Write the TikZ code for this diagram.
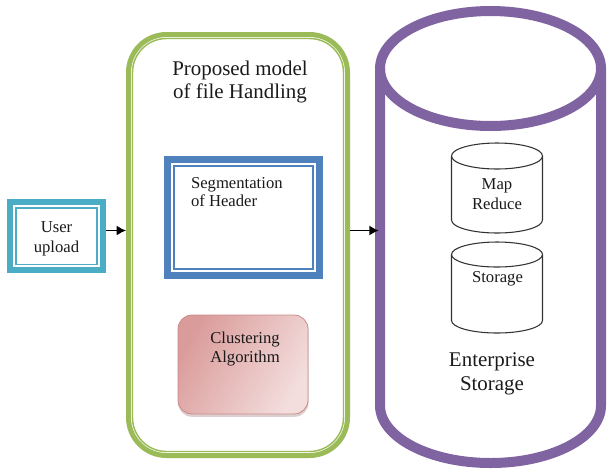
\documentclass[tikz,border=0pt]{standalone}
\usepackage{fontspec}
\setmainfont{Liberation Serif}
\usetikzlibrary{arrows.meta}
\definecolor{cyanb}{HTML}{4BACC6}
\definecolor{blueb}{HTML}{4F81BD}
\definecolor{greenb}{HTML}{9BBB59}
\definecolor{purpb}{HTML}{8064A2}
\definecolor{pinkd}{HTML}{DA9C9B}
\definecolor{pinkl}{HTML}{F3DEDD}
\definecolor{pinkb}{HTML}{C98A89}
\definecolor{txt}{HTML}{1A1A1A}
\begin{document}
\begin{tikzpicture}[x=0.75pt,y=0.75pt,yscale=-1,
  txtnode/.style={text=txt, inner sep=0pt, outer sep=0pt, align=center},
  bigtxt/.style={txtnode, font=\fontsize{15.7}{18}\selectfont},
  frame/.style={inner sep=0pt},
  arr/.style={-{Latex[length=7pt,width=7.5pt]}, line width=1.1pt, black},
  smallcyl/.style={draw=black!80, line width=0.8pt, fill=white}
]
\useasboundingbox (0,0) rectangle (609,472);

% User upload
\node[frame, draw=cyanb, line width=4.5pt, minimum width=69.75pt, minimum height=51pt] (user) at (56.5,236) {};
\draw[cyanb, line width=1.2pt] (16,208) rectangle (97,264.5);
\node[txtnode, font=\fontsize{12.5}{15}\selectfont] (userT) at (56.5,239.3) {User\\upload};

% Green frame
\node[frame, draw=greenb, line width=3.75pt, rounded corners=28.5pt, minimum width=164.25pt, minimum height=315.75pt] (green) at (238,245) {};
\draw[greenb, line width=1.1pt, rounded corners=25.5pt] (132.5,38.5) rectangle (343.5,451.5);
\node[bigtxt, font=\fontsize{15.7}{17.25}\selectfont] (title) at (240,81.6) {Proposed model\\of file Handling};

% Segmentation box
\node[frame, draw=blueb, line width=5pt, minimum width=114.2pt, minimum height=87.2pt] (seg) at (243.5,217.5) {};
\draw[blueb, line width=1.5pt] (174.3,165.7) rectangle (312.7,268.5);
\node[txtnode, anchor=west, align=left, font=\fontsize{12.5}{13.5}\selectfont] (segT) at (191,192.4) {Segmentation\\of Header};

% Clustering box
\fill[pinkb!70!black, opacity=0.3, rounded corners=10.5pt] (178,317) rectangle (308.5,416.8);
\node[frame, draw=pinkb, line width=0.6pt, rounded corners=10.5pt, shading=axis, left color=pinkd, right color=pinkl, shading angle=60, minimum width=97.5pt, minimum height=74.25pt] (clu) at (243,364.5) {};
\node[txtnode, font=\fontsize{12.5}{14.25}\selectfont] (cluT) at (245,348.6) {Clustering\\Algorithm};

% Enterprise storage cylinder
\node[frame, minimum width=173.25pt, minimum height=346.5pt] (ent) at (490.5,237) {};
\draw[purpb, line width=7.5pt] (380,68.5) -- (380,405.5) arc[start angle=180, end angle=0, x radius=110.5, y radius=57.5] -- (601,68.5);
\draw[purpb, line width=7.5pt] (490.5,68.5) ellipse [x radius=110.5, y radius=57.5];

% Map Reduce cylinder
\draw[smallcyl] (451.5,156) -- (451.5,220) arc[start angle=180, end angle=0, x radius=45.5, y radius=13] -- (542.5,156);
\draw[smallcyl] (497,156) ellipse [x radius=45.5, y radius=13];
\node[txtnode, font=\fontsize{12.5}{15}\selectfont] (mapT) at (497,194.5) {Map\\Reduce};

% Storage cylinder
\draw[smallcyl] (451.5,254.5) -- (451.5,320.5) arc[start angle=180, end angle=0, x radius=45.5, y radius=12.5] -- (542.5,254.5);
\draw[smallcyl] (497,254.5) ellipse [x radius=45.5, y radius=12.5];
\node[txtnode, font=\fontsize{12.5}{15}\selectfont] (stoT) at (497.5,279.2) {Storage};

\node[bigtxt, font=\fontsize{15.7}{18}\selectfont] (entT) at (492,373.4) {Enterprise\\Storage};

% Arrows
\coordinate (a1) at (0,230.5);
\draw[arr] (user.east |- a1) -- (green.west |- a1);
\draw[arr, shorten >=-3pt] (green.east |- a1) -- (ent.west |- a1);
\end{tikzpicture}
\end{document}
